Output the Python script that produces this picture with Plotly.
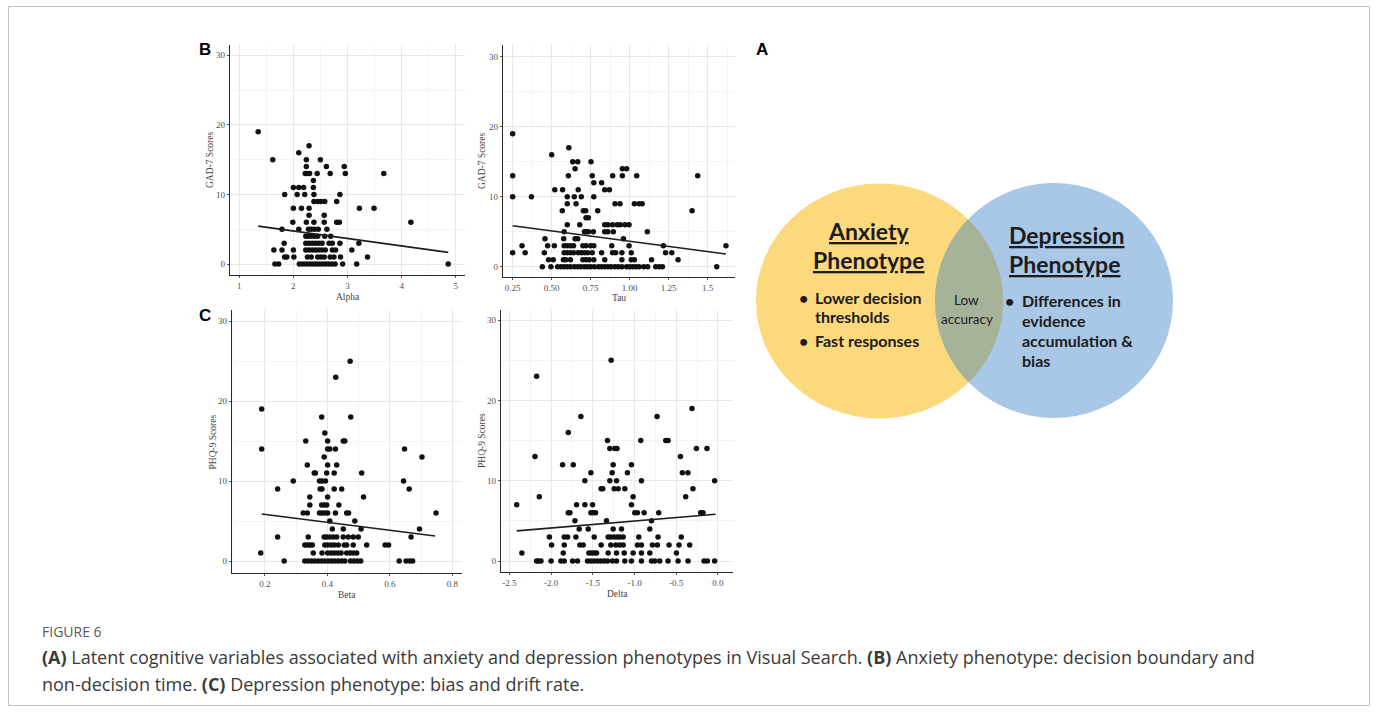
import numpy as np
import plotly.graph_objects as go

W, H = 1375, 713

# ---------------- data ----------------
# GAD-7 score -> Alpha values
alpha_by_gad7 = {
    19: [1.35],
    17: [2.29],
    16: [2.10],
    15: [1.62, 2.24, 2.50],
    14: [2.24, 2.61, 2.94],
    13: [2.22, 2.26, 2.30, 2.44, 2.68, 2.96, 3.67],
    12: [2.37],
    11: [2.00, 2.10, 2.19, 2.37],
    10: [1.84, 2.07, 2.21, 2.38, 2.86],
    9: [2.38, 2.45, 2.51, 2.58, 2.80],
    8: [2.00, 2.15, 2.29, 3.22, 3.49],
    7: [2.29, 2.57],
    6: [1.99, 2.24, 2.38, 2.57, 2.80, 2.85, 4.17],
    5: [1.79, 2.10, 2.28, 2.33, 2.39, 2.46, 2.62],
    4: [2.23, 2.27, 2.33, 2.39, 2.45, 2.58, 2.69],
    3: [1.83, 2.23, 2.29, 2.35, 2.41, 2.47, 2.53, 2.66, 2.72, 2.86, 3.21],
    2: [1.64, 1.79, 2.00, 2.23, 2.29, 2.35, 2.41, 2.47, 2.53, 2.59, 2.72, 2.78, 3.08],
    1: [1.84, 1.88, 2.01, 2.26, 2.33, 2.45, 2.51, 2.57, 2.68, 2.75, 2.87, 3.37],
    0: [1.66, 1.73, 2.11, 2.17, 2.23, 2.29, 2.35, 2.41, 2.47, 2.53, 2.59, 2.65,
        2.71, 2.77, 2.91, 3.17, 4.86],
}
# GAD-7 score -> Tau values
tau_by_gad7 = {
    19: [0.25],
    17: [0.61],
    16: [0.50],
    15: [0.635, 0.667, 0.752],
    14: [0.65, 0.953, 0.98],
    13: [0.25, 0.607, 0.76, 0.891, 0.953, 1.045, 1.436],
    12: [0.77, 0.82],
    11: [0.52, 0.57, 0.67, 0.84, 0.87],
    10: [0.25, 0.37, 0.60, 0.645, 0.69, 0.77],
    9: [0.60, 0.656, 0.906, 0.938, 1.03, 1.06, 1.08],
    8: [0.568, 0.703, 0.718, 0.795, 1.40],
    7: [0.72, 0.735],
    6: [0.60, 0.68, 0.84, 0.86, 0.89, 0.92, 0.94, 0.97, 0.996],
    5: [0.58, 0.71, 0.72, 0.735, 0.767, 0.84, 0.86, 0.895, 1.113],
    4: [0.457, 0.577, 0.65, 0.667, 0.96],
    3: [0.31, 0.474, 0.517, 0.58, 0.60, 0.62, 0.64, 0.70, 0.72, 0.75, 0.77, 0.885,
        0.996, 1.216, 1.617],
    2: [0.25, 0.33, 0.453, 0.58, 0.60, 0.62, 0.64, 0.67, 0.69, 0.71, 0.73, 0.76,
        0.82, 0.89, 0.91, 0.95, 1.01, 1.23, 1.27],
    1: [0.48, 0.51, 0.575, 0.59, 0.62, 0.70, 0.72, 0.74, 0.77, 0.84, 0.95, 1.01,
        1.03, 1.14, 1.31],
    0: [0.44, 0.495, 0.538, 0.56, 0.58, 0.60, 0.62, 0.645, 0.666, 0.687, 0.71,
        0.73, 0.75, 0.773, 0.80, 0.82, 0.84, 0.86, 0.88, 0.905, 0.926, 0.95, 0.98,
        1.00, 1.02, 1.04, 1.06, 1.09, 1.115, 1.167, 1.19, 1.21, 1.558],
}
# PHQ-9 score -> Beta values
beta_by_phq9 = {
    25: [0.473],
    23: [0.427],
    19: [0.19],
    18: [0.382, 0.475],
    16: [0.392],
    15: [0.331, 0.401, 0.451, 0.456],
    14: [0.19, 0.401, 0.408, 0.426, 0.647],
    13: [0.39, 0.703],
    12: [0.336, 0.401, 0.43],
    11: [0.358, 0.362, 0.398, 0.422, 0.51],
    10: [0.291, 0.375, 0.383, 0.394, 0.644],
    9: [0.241, 0.377, 0.383, 0.422, 0.446, 0.662],
    8: [0.344, 0.401, 0.516],
    7: [0.344, 0.382, 0.39, 0.398, 0.437],
    6: [0.323, 0.336, 0.375, 0.383, 0.392, 0.401, 0.426, 0.462, 0.468, 0.748],
    5: [0.408, 0.488],
    4: [0.416, 0.451, 0.508, 0.695],
    3: [0.241, 0.339, 0.39, 0.398, 0.408, 0.419, 0.43, 0.451, 0.467, 0.483, 0.499,
        0.668],
    2: [0.328, 0.336, 0.344, 0.352, 0.392, 0.401, 0.412, 0.422, 0.435, 0.454,
        0.462, 0.483, 0.526, 0.585, 0.596],
    1: [0.187, 0.355, 0.383, 0.401, 0.412, 0.422, 0.433, 0.444, 0.462, 0.473,
        0.483, 0.494],
    0: [0.262, 0.328, 0.339, 0.35, 0.36, 0.371, 0.382, 0.392, 0.403, 0.414, 0.424,
        0.435, 0.446, 0.456, 0.474, 0.485, 0.496, 0.507, 0.63, 0.652, 0.664, 0.673],
}
# PHQ-9 score -> Delta values
delta_by_phq9 = {
    25: [-1.28],
    23: [-2.173],
    19: [-0.311],
    18: [-1.643, -0.73],
    16: [-1.794],
    15: [-1.324, -0.925, -0.626, -0.598],
    14: [-1.296, -1.236, -1.21, -0.259, -0.132],
    13: [-2.193, -0.45],
    12: [-1.862, -1.734, -1.256, -1.037],
    11: [-1.523, -1.268, -1.085, -0.427, -0.36],
    10: [-1.595, -1.296, -1.216, -0.917, -0.04],
    9: [-1.40, -1.38, -1.244, -1.196, -1.116, -0.30],
    8: [-2.141, -1.017, -0.387],
    7: [-2.412, -1.695, -1.595, -1.503, -1.037],
    6: [-1.794, -1.774, -1.523, -1.495, -1.467, -0.997, -0.965, -0.885, -0.71,
        -0.207, -0.18],
    5: [-1.714, -1.336, -0.797],
    4: [-1.663, -1.555, -1.256, -1.156, -0.817],
    3: [-2.02, -1.842, -1.802, -1.703, -1.483, -1.316, -1.284, -1.244, -1.204,
        -1.176, -1.136, -0.949, -0.718, -0.44],
    2: [-1.994, -1.842, -1.655, -1.615, -1.40, -1.284, -1.224, -1.176, -1.136,
        -0.965, -0.917, -0.786, -0.726, -0.586, -0.467, -0.339],
    1: [-2.35, -1.854, -1.547, -1.515, -1.483, -1.455, -1.316, -1.216, -1.124,
        -1.017, -0.917, -0.817, -0.498],
    0: [-2.173, -2.153, -2.121, -2.0, -1.882, -1.842, -1.742, -1.683, -1.563,
        -1.523, -1.483, -1.443, -1.404, -1.364, -1.324, -1.264, -1.216, -1.116,
        -1.037, -0.917, -0.797, -0.757, -0.698, -0.598, -0.478, -0.359, -0.167,
        -0.127, -0.04],
}

# fitted regression lines (end points)
alpha_fit_x, alpha_fit_y = [1.35, 4.86], [5.45, 1.67]
tau_fit_x, tau_fit_y = [0.25, 1.617], [5.84, 1.82]
beta_fit_x, beta_fit_y = [0.19, 0.745], [5.875, 3.125]
delta_fit_x, delta_fit_y = [-2.412, -0.028], [3.75, 5.83]

# tick labels
alpha_ticks, alpha_labels = [1, 2, 3, 4, 5], ["1", "2", "3", "4", "5"]
tau_ticks = [0.25, 0.5, 0.75, 1.0, 1.25, 1.5]
tau_labels = ["0.25", "0.50", "0.75", "1.00", "1.25", "1.5"]
beta_ticks, beta_labels = [0.2, 0.4, 0.6, 0.8], ["0.2", "0.4", "0.6", "0.8"]
delta_ticks = [-2.5, -2.0, -1.5, -1.0, -0.5, 0.0]
delta_labels = ["-2.5", "-2.0", "-1.5", "-1.0", "-0.5", "0.0"]
score_ticks, score_labels = [0, 10, 20, 30], ["0", "10", "20", "30"]

# ---------------- helpers ----------------
def fx(p):
    return p / W


def fy(p):
    return 1 - p / H


def unpack(d):
    xs, ys = [], []
    for s, vals in d.items():
        xs += vals
        ys += [s] * len(vals)
    return xs, ys


SERIF = "Liberation Serif, Times New Roman, serif"
TICKC = "#505050"

panels = [
    dict(data=alpha_by_gad7, fx_=alpha_fit_x, fy_=alpha_fit_y, xd=(230, 465), yd=(45, 275),
         xr=[0.83, 5.17], yr=[-1.58, 31.48], tv=alpha_ticks, tt=alpha_labels, m0=0.5, md=0.5,
         xt="Alpha", yt="GAD-7 Scores", xty=297, ytx=210),
    dict(data=tau_by_gad7, fx_=tau_fit_x, fy_=tau_fit_y, xd=(503, 735), yd=(45, 277),
         xr=[0.188, 1.675], yr=[-1.47, 31.67], tv=tau_ticks, tt=tau_labels, m0=0.125, md=0.125,
         xt="Tau", yt="GAD-7 Scores", xty=298, ytx=482),
    dict(data=beta_by_phq9, fx_=beta_fit_x, fy_=beta_fit_y, xd=(232, 462), yd=(310, 573),
         xr=[0.095, 0.831], yr=[-1.5, 31.4], tv=beta_ticks, tt=beta_labels, m0=0.1, md=0.1,
         xt="Beta", yt="PHQ-9 Scores", xty=595, ytx=212),
    dict(data=delta_by_phq9, fx_=delta_fit_x, fy_=delta_fit_y, xd=(501, 733), yd=(310, 572),
         xr=[-2.6, 0.18], yr=[-1.37, 31.26], tv=delta_ticks, tt=delta_labels, m0=-2.75, md=0.25,
         xt="Delta", yt="PHQ-9 Scores", xty=594, ytx=482),
]

fig = go.Figure()
annotations = []
layout_axes = {}

for i, p in enumerate(panels, start=1):
    sx = "" if i == 1 else str(i)
    xs, ys = unpack(p["data"])
    fig.add_trace(go.Scatter(
        x=xs, y=ys, mode="markers", xaxis="x" + sx, yaxis="y" + sx,
        marker=dict(size=5.5, color="#111111", line=dict(width=0)),
        showlegend=False, hoverinfo="skip"))
    fig.add_trace(go.Scatter(
        x=p["fx_"], y=p["fy_"], mode="lines", xaxis="x" + sx, yaxis="y" + sx,
        line=dict(color="#1e1e1e", width=1.6), showlegend=False, hoverinfo="skip"))

    common = dict(
        showline=True, linecolor="#2a2a2a", linewidth=1.2, mirror=False,
        ticks="outside", ticklen=2, tickwidth=1, tickcolor="#555555",
        tickfont=dict(family=SERIF, size=9, color=TICKC),
        showgrid=True, gridcolor="#e8e8e8", gridwidth=1, zeroline=False,
        fixedrange=True,
    )
    layout_axes["xaxis" + sx] = dict(
        common, domain=[fx(p["xd"][0]), fx(p["xd"][1])], range=p["xr"],
        anchor="y" + sx, tickmode="array", tickvals=p["tv"], ticktext=p["tt"],
        minor=dict(tick0=p["m0"], dtick=p["md"], showgrid=True,
                   gridcolor="#f4f4f4", gridwidth=1, ticks=""))
    layout_axes["yaxis" + sx] = dict(
        common, domain=[fy(p["yd"][1]), fy(p["yd"][0])], range=p["yr"],
        anchor="x" + sx, tickmode="array", tickvals=score_ticks, ticktext=score_labels,
        minor=dict(tick0=0, dtick=5, showgrid=True, gridcolor="#f4f4f4",
                   gridwidth=1, ticks=""))

    annotations.append(dict(
        x=fx((p["xd"][0] + p["xd"][1]) / 2), y=fy(p["xty"]), xref="paper", yref="paper",
        text=p["xt"], showarrow=False, xanchor="center", yanchor="middle",
        font=dict(family=SERIF, size=9.5, color="#444444")))
    annotations.append(dict(
        x=fx(p["ytx"]), y=fy((p["yd"][0] + p["yd"][1]) / 2), xref="paper", yref="paper",
        text=p["yt"], showarrow=False, textangle=-90, xanchor="center", yanchor="middle",
        font=dict(family=SERIF, size=9.5, color="#444444")))

# ---------------- panel letters ----------------
for letter, (lx, ly) in {"B": (205, 49), "C": (205, 315), "A": (762, 49)}.items():
    annotations.append(dict(
        x=fx(lx), y=fy(ly), xref="paper", yref="paper", text="<b>%s</b>" % letter,
        showarrow=False, xanchor="center", yanchor="middle",
        font=dict(family="Liberation Sans, Arial, sans-serif", size=17, color="#000000")))

# ---------------- Venn diagram (A) ----------------
YEL = dict(cx=879.5, cy=301.0, rx=123.5, ry=117.5)
BLU = dict(cx=1054.0, cy=300.5, rx=119.0, ry=117.5)
YEL_C, BLU_C, MIX_C = "#FCD97D", "#A9C7E6", "#A6B398"

shapes = []
for e, col in ((YEL, YEL_C), (BLU, BLU_C)):
    shapes.append(dict(
        type="circle", xref="paper", yref="paper", layer="below",
        x0=fx(e["cx"] - e["rx"]), x1=fx(e["cx"] + e["rx"]),
        y0=fy(e["cy"] + e["ry"]), y1=fy(e["cy"] - e["ry"]),
        fillcolor=col, line=dict(width=0)))


def inside(e, x, y):
    return ((x - e["cx"]) / e["rx"]) ** 2 + ((y - e["cy"]) / e["ry"]) ** 2 <= 1.0


t1 = np.linspace(np.pi / 2, 3 * np.pi / 2, 600)
bx = BLU["cx"] + BLU["rx"] * np.cos(t1)
by = BLU["cy"] + BLU["ry"] * np.sin(t1)
k1 = inside(YEL, bx, by)
t2 = np.linspace(-np.pi / 2, np.pi / 2, 600)
yx = YEL["cx"] + YEL["rx"] * np.cos(t2)
yy = YEL["cy"] + YEL["ry"] * np.sin(t2)
k2 = inside(BLU, yx, yy)
lx = np.concatenate([bx[k1], yx[k2]])
ly = np.concatenate([by[k1], yy[k2]])
path = "M " + " L ".join("%.5f,%.5f" % (fx(a), fy(b)) for a, b in zip(lx, ly)) + " Z"
shapes.append(dict(type="path", xref="paper", yref="paper", layer="below",
                   path=path, fillcolor=MIX_C, line=dict(width=0)))

VFONT = "Lato, Open Sans, sans-serif"
TXT = "#1c1c1c"


def vtext(x, y, s, size, anchor="left", bold=True):
    annotations.append(dict(
        x=fx(x), y=fy(y), xref="paper", yref="paper",
        text=("<b>%s</b>" % s) if bold else s, showarrow=False,
        xanchor=anchor, yanchor="middle",
        font=dict(family=VFONT, size=size, color=TXT)))


vtext(868, 231, "<u>Anxiety</u>", 23, "center")
vtext(868, 260, "<u>Phenotype</u>", 23, "center")
vtext(1066, 235, "<u>Depression</u>", 23, "center")
vtext(1064, 264, "<u>Phenotype</u>", 23, "center")

vtext(803, 297, "•", 16, "center")
vtext(813, 297, "Lower decision", 16)
vtext(813, 316, "thresholds", 16)
vtext(803, 340, "•", 16, "center")
vtext(813, 340, "Fast responses", 16)

vtext(966, 300, "Low", 13.5, "center", bold=False)
vtext(967, 319, "accuracy", 13.5, "center", bold=False)

vtext(1010, 300, "•", 16, "center")
vtext(1020, 300, "Differences in", 16)
vtext(1020, 320, "evidence", 16)
vtext(1020, 340, "accumulation &amp;", 16)
vtext(1020, 360, "bias", 16)

# ---------------- caption ----------------
CAPF = "Open Sans, Noto Sans, sans-serif"
annotations.append(dict(
    x=fx(40), y=fy(631), xref="paper", yref="paper", text="FIGURE 6",
    showarrow=False, xanchor="left", yanchor="middle",
    font=dict(family=CAPF, size=14, color="#5a5a5a")))
annotations.append(dict(
    x=fx(40), y=fy(657), xref="paper", yref="paper",
    text="<b>(A)</b> Latent cognitive variables associated with anxiety and depression "
         "phenotypes in Visual Search. <b>(B)</b> Anxiety phenotype: decision boundary and",
    showarrow=False, xanchor="left", yanchor="middle",
    font=dict(family=CAPF, size=18, color="#3a3a3a")))
annotations.append(dict(
    x=fx(40), y=fy(684), xref="paper", yref="paper",
    text="non-decision time. <b>(C)</b> Depression phenotype: bias and drift rate.",
    showarrow=False, xanchor="left", yanchor="middle",
    font=dict(family=CAPF, size=18, color="#3a3a3a")))

# outer frame
shapes.append(dict(type="rect", xref="paper", yref="paper", layer="below",
                   x0=fx(8.5), x1=fx(1369.5), y0=fy(705.5), y1=fy(6.5),
                   line=dict(color="#c4c4c4", width=1), fillcolor="rgba(0,0,0,0)"))

fig.update_layout(
    width=W, height=H, autosize=False,
    margin=dict(l=0, r=0, t=0, b=0, pad=0),
    paper_bgcolor="white", plot_bgcolor="rgba(0,0,0,0)",
    showlegend=False, annotations=annotations, shapes=shapes,
    **layout_axes,
)

fig.write_html("out.html", config={"displayModeBar": False})
